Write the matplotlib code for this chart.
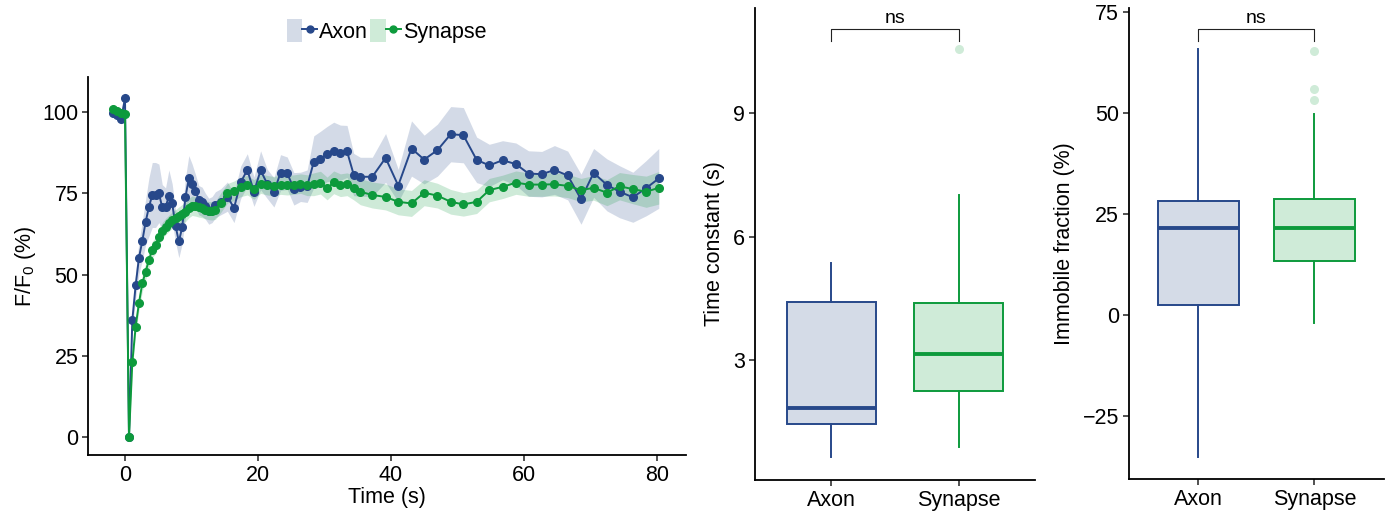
import matplotlib
matplotlib.use('Agg')
import matplotlib.pyplot as plt
from matplotlib.patches import Patch
from matplotlib.lines import Line2D
from matplotlib.legend_handler import HandlerTuple

plt.rcParams['font.family'] = ['Liberation Sans', 'DejaVu Sans']
plt.rcParams['font.size'] = 15.5
plt.rcParams['mathtext.fontset'] = 'custom'
plt.rcParams['mathtext.rm'] = 'Liberation Sans'

# ---- FRAP recovery curves (time in s, F/F0 in %) ----
time = [-1.8, -1.2, -0.6, 0.0,
        0.6, 1.1, 1.6, 2.1, 2.6, 3.1, 3.6, 4.1, 4.6, 5.1, 5.6, 6.1, 6.6, 7.1,
        7.6, 8.1, 8.6, 9.1, 9.6, 10.1, 10.6, 11.1, 11.6, 12.1, 12.6, 13.1, 13.6,
        14.4, 15.4, 16.4, 17.4, 18.4, 19.4, 20.4, 21.4, 22.4, 23.4, 24.4, 25.4,
        26.4, 27.4, 28.4, 29.4, 30.4, 31.4, 32.4, 33.4, 34.4, 35.4,
        37.2, 39.2, 41.1, 43.1, 45.0, 47.0, 49.0, 50.9, 52.9, 54.8, 56.8, 58.8,
        60.7, 62.7, 64.6, 66.6, 68.6, 70.5, 72.5, 74.4, 76.4, 78.4, 80.3]

axon_mean = [99.6, 99.0, 97.8, 104.2,
             0, 36, 46.7, 55.2, 60.3, 66.2, 70.8, 74.5, 74.5, 75, 70.7, 70.7, 74.2, 71.9,
             65, 60.2, 64.5, 73.9, 79.6, 78, 75.8, 72.9, 72.4, 71, 69.5, 70, 71.5,
             72.4, 74, 70.5, 78.4, 82.2, 75.5, 82.1, 77.9, 75.3, 81.4, 81.2, 76.4,
             77, 77.2, 84.7, 85.6, 87.1, 87.9, 87.5, 87.9, 80.8, 80.1,
             80.1, 85.9, 77.4, 88.8, 85.4, 88.3, 93.2, 92.9, 85.3, 83.6, 85.2, 84,
             81.1, 80.9, 82.2, 80.5, 73.2, 81.3, 77.6, 75.5, 73.8, 76.6, 79.6]
axon_sem = [1, 1, 1.5, 2,
            0.5, 3, 4, 5, 6, 7, 9, 10, 10, 9, 7, 6, 8, 6,
            5, 5, 5, 6, 7, 6, 5, 4.5, 4.5, 4, 4, 4, 4,
            4, 4.5, 4.5, 5, 5, 4.5, 6, 4.5, 4.5, 5.5, 5, 5,
            4.5, 5, 8, 8.5, 8.5, 9, 8.5, 8, 6.5, 6,
            6, 7.5, 5, 8.5, 7.5, 8, 8.5, 8.5, 7, 6.5, 6, 6.5,
            7, 7, 7.5, 7.5, 7.7, 7.5, 8, 8, 7.7, 8.5, 9.2]

syn_mean = [101, 100.4, 99.8, 99.4,
            0, 23, 34, 41.3, 47.3, 50.9, 54.5, 57.7, 59, 61.5, 63.5, 64.8, 65.8, 66.8,
            67.5, 68, 68.6, 69.3, 70.5, 71.2, 71, 70.7, 70.5, 70, 69.7, 69.6, 69.8,
            72.1, 75, 75.8, 77, 77.5, 76.2, 78, 77.5, 77.2, 77.7, 77.5, 77.7,
            78, 77.5, 77.8, 78.3, 76.5, 78.4, 77.5, 77.8, 76.8, 75.5,
            74.5, 73.9, 72.4, 71.9, 75.2, 74.3, 72.4, 71.6, 72.4, 76, 77, 78.3,
            77.7, 77.7, 77.8, 77.3, 76, 76.7, 75.2, 77.2, 76.3, 75.5, 76.7]
syn_sem = [0.8, 0.8, 0.8, 0.8,
           0.5, 2, 2.2, 2.3, 2.5, 2.5, 2.5, 2.5, 2.5, 2.5, 2.5, 2.5, 2.5, 2.5,
           2.5, 2.8, 3, 3, 3, 3, 3, 3, 3, 2.8, 2.8, 2.8, 2.8,
           3, 3, 3, 3, 3, 3, 3, 3, 3, 3, 3, 3,
           3, 3.2, 3.5, 3.5, 3.5, 3.5, 3.5, 3.5, 3.8, 4,
           4, 4, 4, 4, 4, 3.8, 3.8, 3.6, 3.6, 3.6, 3.6, 3.6,
           3.6, 3.6, 3.6, 3.6, 3.6, 3.8, 4, 4.2, 4.5, 4.8, 5]

# ---- box plot summaries ----
groups = ['Axon', 'Synapse']
tau_whislo = [0.65, 0.9]
tau_q1 = [1.45, 2.25]
tau_med = [1.83, 3.15]
tau_q3 = [4.41, 4.39]
tau_whishi = [5.37, 7.02]
tau_fliers = [[], [10.55]]

imm_whislo = [-35.1, -1.9]
imm_q1 = [2.5, 13.4]
imm_med = [21.5, 21.6]
imm_q3 = [28.2, 28.6]
imm_whishi = [65.8, 49.8]
imm_fliers = [[], [65.4, 55.9, 53.2]]

blue = '#27488a'
green = '#0d9a3c'
blue_fill = '#d4dbe7'
green_fill = '#cfebd8'

fig = plt.figure(figsize=(13.91, 5.11), dpi=100)
ax1 = fig.add_axes([0.0633, 0.1096, 0.4299, 0.7397])
ax2 = fig.add_axes([0.5428, 0.0607, 0.2013, 0.9237])
ax3 = fig.add_axes([0.8116, 0.0626, 0.1833, 0.9217])

# left panel
lo_a = [m - s for m, s in zip(axon_mean, axon_sem)]
hi_a = [m + s for m, s in zip(axon_mean, axon_sem)]
lo_s = [m - s for m, s in zip(syn_mean, syn_sem)]
hi_s = [m + s for m, s in zip(syn_mean, syn_sem)]
ax1.fill_between(time, lo_a, hi_a, color=blue, alpha=0.2, lw=0)
ax1.fill_between(time, lo_s, hi_s, color=green, alpha=0.2, lw=0)
ax1.plot(time, axon_mean, color=blue, lw=1.4, marker='o', ms=5.5)
ax1.plot(time, syn_mean, color=green, lw=1.4, marker='o', ms=5.5)
ax1.set_xlim(-5.56, 84.4)
ax1.set_ylim(-5.5, 110.8)
ax1.set_xticks([0, 20, 40, 60, 80])
ax1.set_yticks([0, 25, 50, 75, 100])
ax1.set_xlabel('Time (s)', labelpad=1)
ax1.set_ylabel('F/F$_\\mathregular{0}$ (%)', labelpad=3)

handles = [(Patch(facecolor=blue_fill, edgecolor='none'),
            Line2D([], [], color=blue, lw=1.4, marker='o', ms=5)),
           (Patch(facecolor=green_fill, edgecolor='none'),
            Line2D([], [], color=green, lw=1.4, marker='o', ms=5))]
fig.legend(handles, groups, loc='center', bbox_to_anchor=(0.278, 0.939),
           ncol=2, frameon=False, handler_map={tuple: HandlerTuple(ndivide=None)},
           handlelength=1.4, handleheight=1.25, handletextpad=0.1,
           columnspacing=0.1, borderpad=0)


def draw_box(ax, whislo, q1, med, q3, whishi, fliers):
    stats = []
    for i in range(2):
        stats.append(dict(label=groups[i], whislo=whislo[i], q1=q1[i], med=med[i],
                          q3=q3[i], whishi=whishi[i], fliers=fliers[i]))
    bp = ax.bxp(stats, positions=[1, 2], widths=0.7, patch_artist=True,
                showcaps=False,
                flierprops=dict(marker='o', markerfacecolor=green_fill,
                                markeredgecolor='none', markersize=6.5),
                medianprops=dict(lw=2.8), whiskerprops=dict(lw=1.4),
                boxprops=dict(lw=1.4))
    cols = [blue, green]
    fills = [blue_fill, green_fill]
    for i in range(2):
        bp['boxes'][i].set_facecolor(fills[i])
        bp['boxes'][i].set_edgecolor(cols[i])
        bp['medians'][i].set_color(cols[i])
        bp['whiskers'][2 * i].set_color(cols[i])
        bp['whiskers'][2 * i + 1].set_color(cols[i])
    ax.set_xlim(0.4, 2.6)


draw_box(ax2, tau_whislo, tau_q1, tau_med, tau_q3, tau_whishi, tau_fliers)
ax2.set_ylim(0.09, 11.55)
ax2.set_yticks([3, 6, 9])
ax2.set_ylabel('Time constant (s)', labelpad=6)
ax2.plot([1, 1, 2, 2], [10.75, 11.05, 11.05, 10.75], color='#222222', lw=0.8, clip_on=False)
ax2.text(1.5, 11.1, 'ns', ha='center', va='bottom', fontsize=14)

draw_box(ax3, imm_whislo, imm_q1, imm_med, imm_q3, imm_whishi, imm_fliers)
ax3.set_ylim(-40.6, 76)
ax3.set_yticks([-25, 0, 25, 50, 75])
ax3.set_ylabel('Immobile fraction (%)', labelpad=6)
ax3.plot([1, 1, 2, 2], [67.9, 70.7, 70.7, 67.9], color='#222222', lw=0.8, clip_on=False)
ax3.text(1.5, 71.2, 'ns', ha='center', va='bottom', fontsize=14)

for ax in (ax1, ax2, ax3):
    ax.spines['top'].set_visible(False)
    ax.spines['right'].set_visible(False)
    ax.spines['left'].set_linewidth(1.3)
    ax.spines['bottom'].set_linewidth(1.3)
    ax.tick_params(length=4, width=1.1, colors='#222222', labelcolor='black', pad=3)

fig.savefig('out.png', dpi=100)
